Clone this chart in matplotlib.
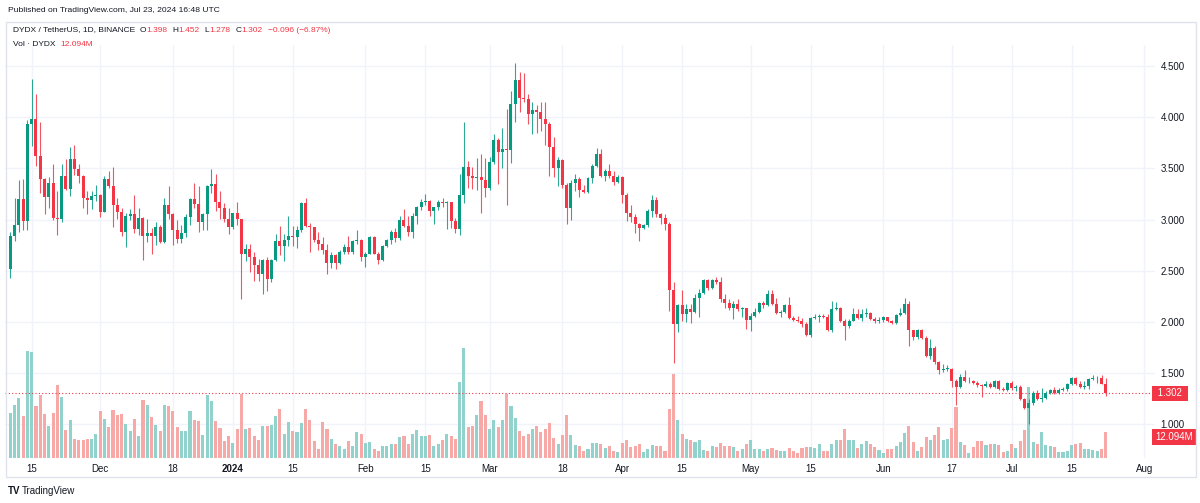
import datetime as dt
import matplotlib
matplotlib.use('Agg')
import matplotlib.pyplot as plt
import matplotlib.dates as mdates
import matplotlib.transforms as mtransforms
from matplotlib.patches import Rectangle

# DYDX / USDT daily candles, 2023-11-10 .. 2024-07-23
start_day = dt.date(2023, 11, 10)
first_open = 2.52

closes = [
    # Nov
    2.84, 2.95, 3.20, 2.99, 3.93, 3.98, 3.62, 3.40, 3.22, 3.36, 3.02, 3.01, 3.43, 3.30, 3.59, 3.49,
    3.43, 3.21, 3.19, 3.23, 3.24,
    # Dec
    3.07, 3.40, 3.33, 3.14, 3.07, 2.88, 3.04, 3.05, 2.91, 3.02, 2.84, 2.87, 2.84, 2.93, 2.78, 3.14,
    3.05, 2.90, 2.81, 2.87, 3.03, 3.20, 3.15, 2.98, 3.05, 3.33, 3.35, 3.17, 3.11, 3.01, 2.93,
    # Jan
    3.06, 3.01, 2.66, 2.71, 2.63, 2.56, 2.47, 2.61, 2.42, 2.61, 2.79, 2.74, 2.80, 2.84, 2.83, 2.90,
    3.16, 2.94, 2.93, 2.80, 2.76, 2.70, 2.58, 2.65, 2.58, 2.68, 2.73, 2.68, 2.79, 2.80, 2.63,
    # Feb
    2.66, 2.83, 2.66, 2.61, 2.74, 2.80, 2.88, 2.82, 3.00, 2.94, 2.88, 3.04, 3.12, 3.17, 3.18, 3.08,
    3.12, 3.17, 3.16, 3.17, 2.99, 2.91, 3.24, 3.51, 3.43, 3.41, 3.42, 3.39, 3.31,
    # Mar
    3.56, 3.78, 3.66, 3.69, 3.68, 4.13, 4.36, 4.19, 4.18, 4.03, 4.07, 4.05, 3.98, 3.93, 3.71, 3.50,
    3.58, 3.34, 3.11, 3.36, 3.40, 3.29, 3.27, 3.41, 3.52, 3.64, 3.43, 3.47, 3.43, 3.37, 3.42,
    # Apr
    3.24, 3.06, 3.03, 2.96, 2.92, 2.95, 3.08, 3.19, 3.05, 3.02, 2.96, 2.31, 1.98, 2.17, 2.08, 2.13,
    2.10, 2.23, 2.28, 2.41, 2.33, 2.41, 2.39, 2.22, 2.19, 2.14, 2.18, 2.13, 2.14, 2.02,
    # May
    2.06, 2.10, 2.19, 2.17, 2.27, 2.18, 2.09, 2.10, 2.17, 2.04, 2.02, 2.01, 1.98, 1.87, 2.04, 2.05,
    2.06, 2.05, 1.92, 2.13, 2.14, 2.01, 1.96, 2.01, 2.08, 2.04, 2.08, 2.09, 2.03, 2.01, 2.02,
    # Jun
    2.05, 2.01, 1.99, 2.07, 2.09, 2.18, 1.92, 1.85, 1.92, 1.84, 1.67, 1.75, 1.61, 1.53, 1.54, 1.545,
    1.42, 1.37, 1.46, 1.42, 1.425, 1.40, 1.38, 1.375, 1.39, 1.37, 1.42, 1.35, 1.34, 1.40,
    # Jul
    1.36, 1.37, 1.25, 1.165, 1.21, 1.31, 1.25, 1.26, 1.31, 1.34, 1.31, 1.34, 1.345, 1.39, 1.45, 1.39,
    1.37, 1.375, 1.44, 1.45, 1.455, 1.398, 1.302,
]

highs = [
    2.88, 3.21, 3.39, 3.40, 3.97, 4.37, 4.23, 3.95, 3.41, 3.42, 3.54, 3.28, 3.54, 3.59, 3.71, 3.73,
    3.54, 3.44, 3.28, 3.28, 3.34,
    3.25, 3.43, 3.47, 3.51, 3.21, 3.11, 3.06, 3.10, 3.24, 3.11, 3.03, 3.01, 2.92, 2.98, 2.95, 3.21,
    3.33, 3.06, 3.00, 2.95, 3.05, 3.21, 3.36, 3.33, 3.06, 3.34, 3.49, 3.45, 3.28, 3.16, 3.11,
    3.06, 3.17, 3.01, 2.76, 2.76, 2.68, 2.62, 2.62, 2.63, 2.62, 2.86, 2.94, 2.86, 3.04, 2.94, 2.94,
    3.17, 3.21, 2.97, 2.93, 2.88, 2.83, 2.76, 2.68, 2.66, 2.70, 2.76, 2.84, 2.80, 2.90, 2.81,
    2.68, 2.84, 2.84, 2.68, 2.75, 2.81, 2.90, 2.92, 3.04, 3.10, 3.04, 3.06, 3.13, 3.20, 3.25, 3.19,
    3.12, 3.19, 3.21, 3.18, 3.17, 3.02, 3.45, 3.95, 3.57, 3.51, 3.60, 3.64, 3.60,
    3.61, 3.84, 3.80, 3.89, 4.08, 4.26, 4.53, 4.44, 4.43, 4.23, 4.15, 4.12, 4.15, 4.15, 3.95, 3.81,
    3.61, 3.59, 3.36, 3.39, 3.45, 3.42, 3.34, 3.42, 3.54, 3.70, 3.69, 3.49, 3.54, 3.47, 3.44,
    3.43, 3.26, 3.14, 3.05, 2.97, 2.96, 3.10, 3.24, 3.22, 3.06, 3.05, 2.98, 2.39, 2.18, 2.31, 2.18,
    2.18, 2.27, 2.32, 2.42, 2.42, 2.42, 2.44, 2.44, 2.27, 2.22, 2.21, 2.22, 2.15, 2.14,
    2.09, 2.14, 2.20, 2.21, 2.31, 2.31, 2.23, 2.12, 2.18, 2.24, 2.06, 2.06, 2.04, 2.00, 2.05, 2.08,
    2.08, 2.08, 2.08, 2.21, 2.20, 2.15, 2.03, 2.03, 2.14, 2.13, 2.13, 2.14, 2.10, 2.05, 2.05,
    2.06, 2.05, 2.02, 2.08, 2.14, 2.23, 2.21, 1.92, 1.93, 1.93, 1.86, 1.83, 1.77, 1.62, 1.59, 1.58,
    1.55, 1.44, 1.49, 1.53, 1.46, 1.43, 1.42, 1.39, 1.42, 1.41, 1.43, 1.43, 1.37, 1.41,
    1.42, 1.38, 1.38, 1.26, 1.25, 1.33, 1.34, 1.36, 1.33, 1.35, 1.37, 1.36, 1.37, 1.40, 1.46, 1.46,
    1.42, 1.42, 1.45, 1.48, 1.47, 1.48, 1.452,
]

lows = [
    2.43, 2.79, 2.88, 2.90, 2.90, 3.72, 3.52, 3.26, 3.05, 3.11, 3.00, 2.85, 2.98, 3.29, 3.23, 3.44,
    3.36, 3.11, 3.05, 3.10, 3.18,
    3.03, 3.07, 3.31, 2.93, 3.01, 2.84, 2.73, 3.00, 2.87, 2.85, 2.61, 2.78, 2.66, 2.75, 2.77, 2.77,
    3.01, 2.75, 2.77, 2.77, 2.83, 2.95, 3.11, 2.88, 2.90, 2.90, 3.26, 3.08, 3.01, 2.98, 2.86,
    2.91, 2.95, 2.22, 2.60, 2.49, 2.40, 2.40, 2.27, 2.30, 2.39, 2.60, 2.65, 2.60, 2.74, 2.74, 2.72,
    2.88, 2.93, 2.68, 2.78, 2.70, 2.66, 2.47, 2.53, 2.52, 2.57, 2.66, 2.66, 2.66, 2.76, 2.60,
    2.54, 2.66, 2.66, 2.57, 2.60, 2.73, 2.76, 2.78, 2.80, 2.93, 2.84, 2.82, 2.96, 3.09, 3.14, 3.04,
    2.96, 3.09, 3.12, 2.91, 2.92, 2.87, 2.85, 3.16, 3.31, 3.30, 3.29, 3.06, 3.22,
    3.29, 3.54, 3.35, 3.50, 3.14, 3.55, 3.95, 4.05, 4.15, 3.93, 3.84, 3.85, 3.87, 3.73, 3.43, 3.42,
    3.33, 3.31, 2.96, 3.00, 3.28, 3.22, 3.26, 3.26, 3.36, 3.51, 3.42, 3.38, 3.41, 3.34, 3.36,
    3.16, 2.99, 2.98, 2.87, 2.79, 2.91, 2.93, 3.03, 3.03, 2.96, 2.90, 2.11, 1.60, 1.90, 2.01, 2.00,
    1.99, 2.09, 2.05, 2.27, 2.31, 2.32, 2.37, 2.20, 2.14, 2.12, 2.03, 2.11, 2.05, 1.93,
    1.91, 2.05, 2.09, 2.14, 2.16, 2.17, 2.08, 2.05, 2.09, 2.03, 2.01, 2.00, 1.95, 1.86, 1.85, 2.03,
    2.00, 2.04, 1.91, 1.90, 2.12, 2.00, 1.82, 1.94, 2.01, 2.03, 2.01, 2.05, 2.02, 1.99, 1.99,
    2.00, 2.00, 1.98, 1.98, 2.06, 2.08, 1.77, 1.82, 1.83, 1.83, 1.66, 1.64, 1.59, 1.49, 1.51, 1.52,
    1.37, 1.19, 1.36, 1.41, 1.40, 1.39, 1.37, 1.27, 1.37, 1.36, 1.36, 1.34, 1.33, 1.33,
    1.34, 1.33, 1.24, 1.15, 1.00, 1.19, 1.24, 1.22, 1.25, 1.30, 1.30, 1.30, 1.33, 1.33, 1.38, 1.38,
    1.36, 1.35, 1.35, 1.43, 1.40, 1.39, 1.278,
]

# volume in millions of DYDX
volumes = [
    20.9, 24.5, 27.9, 19.4, 49.6, 49.3, 24.3, 29.5, 20.6, 14.7, 20.9, 34.1, 28.2, 13.0, 17.8, 8.7,
    8.2, 8.2, 9.0, 9.0, 11.2,
    21.7, 18.3, 14.4, 22.3, 19.8, 20.6, 15.8, 12.7, 18.0, 10.1, 26.8, 24.8, 19.1, 15.5, 12.4, 24.8,
    24.3, 21.7, 14.4, 12.7, 12.4, 22.0, 17.7, 17.4, 10.9, 29.3, 26.7, 17.1, 14.1, 7.8, 10.4,
    7.1, 13.3, 29.9, 13.3, 14.1, 10.1, 8.4, 15.0, 15.0, 15.3, 19.7, 22.9, 11.3, 16.7, 12.4, 11.9,
    16.3, 22.6, 17.8, 8.1, 4.3, 16.9, 13.6, 8.7, 6.5, 5.7, 4.3, 7.8, 5.4, 12.2, 11.0,
    7.0, 7.3, 4.2, 3.4, 5.4, 5.4, 6.7, 6.7, 9.6, 10.1, 6.7, 11.3, 13.0, 10.4, 10.4, 10.9,
    5.4, 6.5, 8.4, 11.0, 10.4, 8.7, 35.2, 51.2, 14.3, 15.0, 20.0, 26.5, 20.2,
    13.6, 17.8, 14.3, 17.7, 29.9, 24.3, 18.8, 12.4, 10.1, 11.0, 13.6, 15.0, 12.1, 13.3, 16.3, 9.3,
    6.7, 10.9, 20.0, 10.9, 6.2, 5.4, 3.4, 4.3, 7.0, 7.0, 6.5, 4.7, 5.7, 3.1, 2.6,
    7.0, 8.4, 5.1, 5.4, 6.7, 2.6, 4.3, 6.2, 5.7, 5.4, 3.4, 22.9, 39.1, 17.5, 11.3, 8.7,
    8.4, 7.4, 8.4, 3.7, 3.4, 5.4, 5.0, 7.0, 5.7, 5.7, 5.0, 3.4, 4.3, 6.5,
    8.4, 4.0, 4.0, 3.1, 4.3, 4.7, 3.7, 3.4, 3.1, 4.7, 3.1, 2.5, 4.7, 5.0, 5.0, 4.7,
    6.7, 3.4, 3.4, 6.7, 8.4, 8.4, 13.6, 8.4, 8.5, 4.8, 6.7, 7.8, 6.4, 5.1, 3.9,
    2.5, 4.3, 4.3, 5.4, 7.4, 11.6, 15.0, 7.3, 3.1, 5.0, 9.8, 8.4, 10.5, 14.3, 8.4, 9.0,
    13.8, 23.6, 7.3, 6.0, 2.5, 5.0, 7.9, 7.9, 5.9, 6.4, 6.7, 6.2, 2.9, 3.1,
    6.7, 4.5, 7.8, 12.9, 33.2, 7.4, 6.7, 12.2, 5.9, 5.7, 5.1, 2.8, 2.8, 3.4, 5.9, 6.4,
    6.8, 4.2, 4.2, 3.9, 3.4, 4.3, 12.094,
]

price_ticks = [1.0, 1.5, 2.0, 2.5, 3.0, 3.5, 4.0, 4.5]
date_ticks = ['2023-11-15', '2023-12-01', '2023-12-18', '2024-01-01', '2024-01-15', '2024-02-01',
              '2024-02-15', '2024-03-01', '2024-03-18', '2024-04-01', '2024-04-15', '2024-05-01',
              '2024-05-15', '2024-06-01', '2024-06-17', '2024-07-01', '2024-07-15', '2024-08-01']
date_labels = ['15', 'Dec', '18', '2024', '15', 'Feb', '15', 'Mar', '18', 'Apr', '15', 'May',
               '15', 'Jun', '17', 'Jul', '15', 'Aug']

UP = '#089981'
DOWN = '#f23645'
VOL_UP = '#92d2cc'
VOL_DOWN = '#f7a9a7'
GRID = '#f0f3fa'
TEXT = '#131722'

plt.rcParams['font.family'] = ['Liberation Sans', 'DejaVu Sans']

W, H = 1200, 503
fig = plt.figure(figsize=(W / 100, H / 100), dpi=100)


def px_box(left, top, right, bottom):
    """ pixel box -> figure fraction rect """
    return [left / W, 1 - bottom / H, (right - left) / W, (bottom - top) / H]


dates = [start_day + dt.timedelta(days=i) for i in range(len(closes))]
x = mdates.date2num(dates)
opens = [first_open] + closes[:-1]
up = [c >= o for o, c in zip(opens, closes)]
highs = [max(h, o, c) for h, o, c in zip(highs, opens, closes)]
lows = [min(l, o, c) for l, o, c in zip(lows, opens, closes)]

# volume pane (behind) and price pane (on top), same rectangle
ax_vol = fig.add_axes(px_box(5, 45, 1155, 458))
ax = fig.add_axes(px_box(5, 45, 1155, 458), sharex=ax_vol)
ax.set_zorder(ax_vol.get_zorder() + 1)
ax.patch.set_visible(False)

# grid lives on the back pane so the volume bars cover it
for d in date_ticks:
    ax_vol.axvline(mdates.datestr2num(d), color=GRID, linewidth=1, zorder=0)
grid_tf = mtransforms.blended_transform_factory(ax_vol.transAxes, ax.transData)
for p in price_ticks:
    ax_vol.plot([0, 1], [p, p], transform=grid_tf, color=GRID, linewidth=1, zorder=0)

ax_vol.bar(x, volumes, width=0.72, color=[VOL_UP if u else VOL_DOWN for u in up],
           linewidth=0, zorder=1)
ax_vol.set_ylim(0, 192)
ax_vol.set_yticks([])
for s in ax_vol.spines.values():
    s.set_visible(False)
ax_vol.tick_params(axis='x', length=0, labelbottom=False)

# candles
cols = [UP if u else DOWN for u in up]
ax.vlines(x, lows, highs, colors=cols, linewidth=0.8, alpha=0.85, zorder=2)
bottoms = [min(o, c) for o, c in zip(opens, closes)]
heights = [max(abs(c - o), 0.008) for o, c in zip(opens, closes)]
ax.bar(x, heights, bottom=bottoms, width=0.7, color=cols, linewidth=0, zorder=3)

# last price line
last = closes[-1]
ax.axhline(last, color=DOWN, linestyle=(0, (1, 2)), linewidth=0.8, zorder=1)

ax.set_xlim(mdates.datestr2num('2023-11-15') - 6.24, mdates.datestr2num('2023-11-15') + 262.5)
ax.set_ylim(0.672, 4.705)

ax.yaxis.tick_right()
ax.set_yticks(price_ticks)
ax.set_yticklabels(['%.3f' % p for p in price_ticks])
ax.tick_params(axis='y', length=0, pad=4, labelsize=7, labelcolor=TEXT)
ax.set_xticks([mdates.datestr2num(d) for d in date_ticks])
ax.set_xticklabels(date_labels)
ax.tick_params(axis='x', length=0, pad=4, labelsize=7, labelcolor=TEXT)
for lbl in ax.get_xticklabels():
    if lbl.get_text() == '2024':
        lbl.set_fontweight('bold')
for s in ax.spines.values():
    s.set_visible(False)

# price / volume tags on the scale
tag = dict(boxstyle='square,pad=0.3', facecolor=DOWN, edgecolor='none')
ax.text(1.0, last, ' %.3f ' % last,
        transform=mtransforms.blended_transform_factory(ax.transAxes, ax.transData),
        ha='left', va='center', fontsize=7, color='white', bbox=tag, clip_on=False, zorder=6)
ax.text(1.0, volumes[-1], '%.3fM' % volumes[-1],
        transform=mtransforms.blended_transform_factory(ax.transAxes, ax_vol.transData),
        ha='left', va='top', fontsize=7, color='white', bbox=tag, clip_on=False, zorder=6)

# frame and header
fig.patches.append(Rectangle((6 / W, 1 - 477 / H), 1190 / W, 455 / H, transform=fig.transFigure,
                             fill=False, edgecolor='#e0e3eb', linewidth=1))
fig.text(8 / W, 1 - 11 / H, 'Published on TradingView.com, Jul 23, 2024 16:48 UTC',
         fontsize=6.1, color=TEXT, va='center')

renderer = fig.canvas.get_renderer()


def text_row(y_px, x_px, pieces, size=6.0):
    """ lay out coloured text pieces one after another (gap in px before each) """
    for s, col, gap in pieces:
        x_px += gap
        t = fig.text(x_px / W, 1 - y_px / H, s, fontsize=size, color=col, va='center')
        x_px += t.get_window_extent(renderer).width


o, h, l, c = opens[-1], highs[-1], lows[-1], closes[-1]
chg = c - o
text_row(30, 13, [('DYDX / TetherUS, 1D, BINANCE', TEXT, 0),
                  ('O', TEXT, 5), ('%.3f' % o, DOWN, 0),
                  ('H', TEXT, 5), ('%.3f' % h, DOWN, 0),
                  ('L', TEXT, 5), ('%.3f' % l, DOWN, 0),
                  ('C', TEXT, 5), ('%.3f' % c, DOWN, 0),
                  ('\u2212%.3f (\u2212%.2f%%)' % (-chg, -chg / o * 100), DOWN, 5)])
text_row(44, 13, [('Vol \u00b7 DYDX', TEXT, 0), ('%.3fM' % volumes[-1], DOWN, 5)])

fig.text(8 / W, 1 - 491 / H, 'TV', fontsize=7, fontweight='bold', color=TEXT, va='center')
fig.text(22 / W, 1 - 491 / H, 'TradingView', fontsize=7, color=TEXT, va='center')

fig.savefig('out.png', dpi=100)
